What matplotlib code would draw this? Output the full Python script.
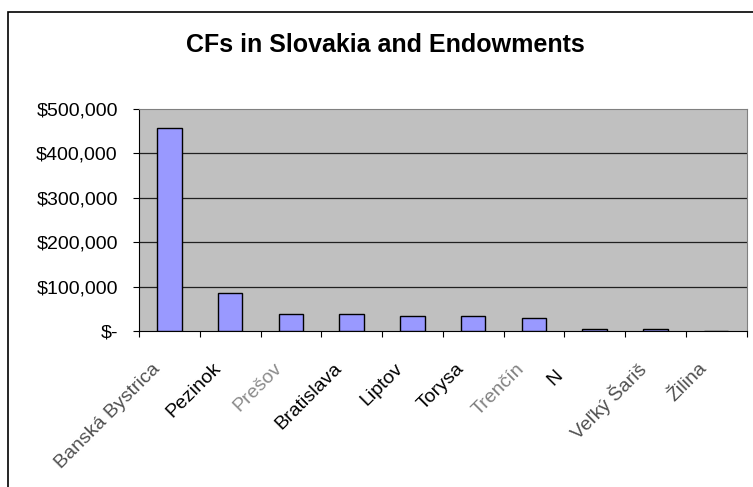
import matplotlib.pyplot as plt
from matplotlib.patches import Rectangle
from matplotlib.transforms import ScaledTranslation

# data
towns = ['Banská Bystrica', 'Pezinok', 'Prešov', 'Bratislava', 'Liptov',
         'Torysa', 'Trenčín', 'N', 'Veľký Šariš', 'Žilina']
endowments = [458000, 85000, 39000, 39000, 33000, 33000, 28500, 4500, 4500, 0]
label_colors = ['#505050', 'black', '#8a8a8a', 'black', 'black',
                'black', '#808080', 'black', '#505050', '#505050']
y_ticks = [0, 100000, 200000, 300000, 400000, 500000]
y_labels = ['$-', '$100,000', '$200,000', '$300,000', '$400,000', '$500,000']

plt.rcParams['font.family'] = ['Liberation Sans', 'DejaVu Sans']

fig = plt.figure(figsize=(7.53, 4.87), dpi=100)

# outer chart border (runs off the right and bottom edges)
fig.patches.append(Rectangle((8 / 753, -0.05), 1.0, 1 - 12 / 487 + 0.05,
                             transform=fig.transFigure, fill=False,
                             edgecolor='black', lw=1.2))

ax = fig.add_axes([139 / 753, 1 - 331 / 487, (746.5 - 139) / 753, (331 - 109) / 487])
ax.set_facecolor('#C0C0C0')

x = list(range(len(towns)))
ax.bar(x, endowments, width=0.4, color='#9999FF', edgecolor='black', lw=1, zorder=3)

ax.set_xlim(-0.5, len(towns) - 0.5)
ax.set_ylim(0, 500000)

ax.set_yticks(y_ticks)
ax.set_yticklabels(y_labels, fontsize=14)
for v in y_ticks[1:-1]:
    ax.axhline(v, color='#202020', lw=0.9, zorder=1)

# category ticks at boundaries
ax.set_xticks([i - 0.5 for i in range(len(towns) + 1)])
ax.set_xticklabels([])
ax.tick_params(axis='x', direction='out', length=4.3, width=0.8)
ax.tick_params(axis='y', direction='out', length=4.3, width=0.8, pad=11)

# rotated category labels
for i, (name, c) in enumerate(zip(towns, label_colors)):
    dx, dy = -12, -35
    if name == 'N':
        dx, dy = -34, -42
    off = ScaledTranslation(dx / 100, dy / 100, fig.dpi_scale_trans)
    ax.text(i, 0, name, transform=ax.get_xaxis_transform() + off,
            rotation=45, ha='right', va='center', rotation_mode='anchor',
            fontsize=14, color=c)

for side in ['top', 'right']:
    ax.spines[side].set_color('#808080')
ax.spines['left'].set_color('black')
ax.spines['bottom'].set_color('black')

fig.text(385.5 / 753, 1 - 45 / 487, 'CFs in Slovakia and Endowments', ha='center', va='center',
         fontsize=18, fontweight='bold')

fig.savefig('out.png', dpi=100)
